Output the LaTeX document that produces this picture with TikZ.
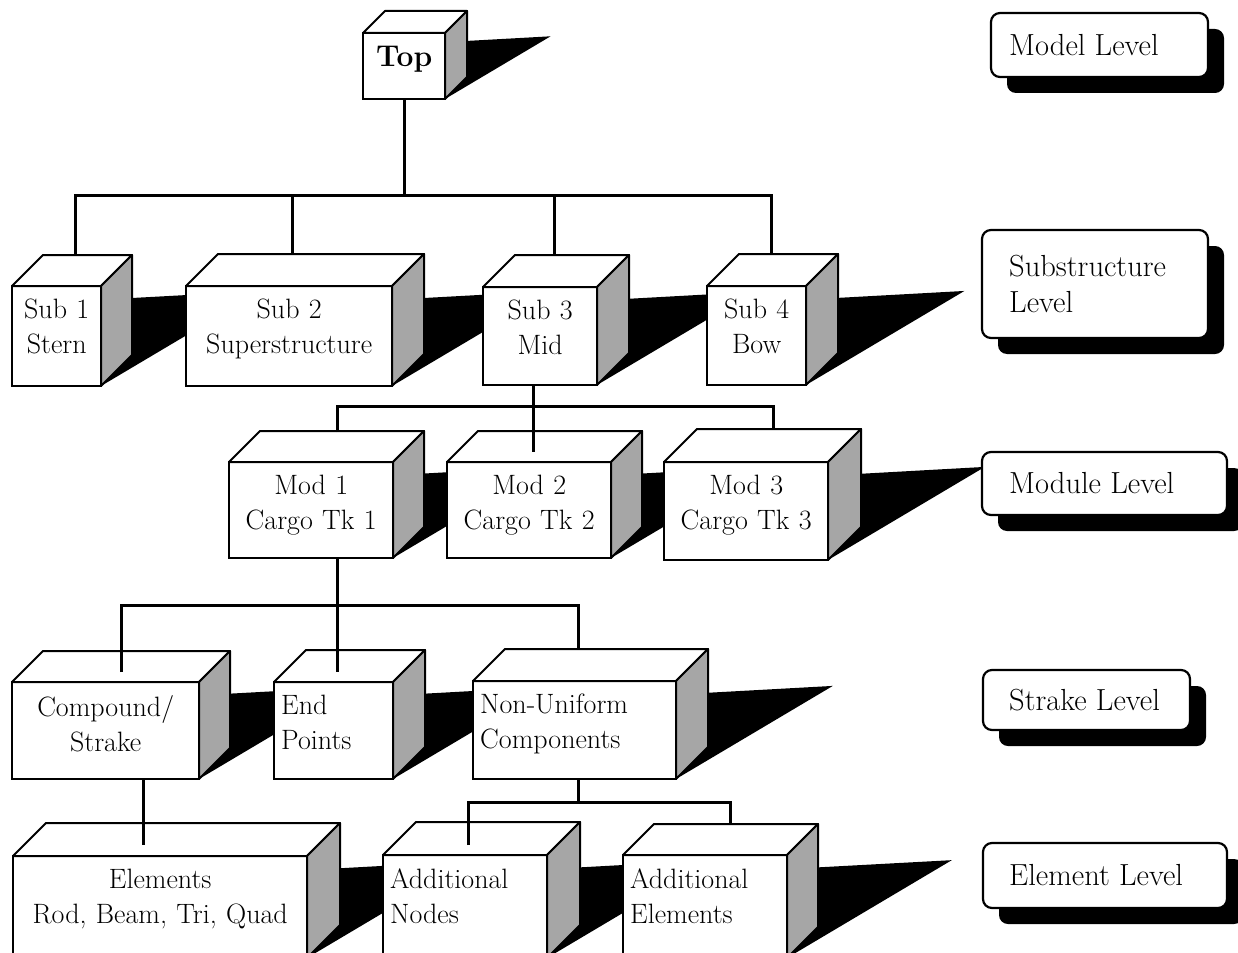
\documentclass[tikz,border=0pt]{standalone}
\usepackage{fontspec}
\usepackage{tikz}
\tikzstyle{front}=[draw,fill=white,line width=2pt,inner sep=0pt,outer sep=0pt]
\tikzstyle{face}=[draw,fill=white,line width=2pt,line join=round]
\tikzstyle{sideface}=[draw,fill=black!35,line width=2pt,line join=round]
\tikzstyle{shadowfill}=[fill=black]
\tikzstyle{boxtext}=[anchor=north west,inner xsep=7pt,inner ysep=0pt,yshift=-13pt,font=\fontsize{28}{35}\selectfont]
\tikzstyle{link}=[line width=3pt]
\tikzstyle{levelframe}=[draw,fill=white,line width=2.2pt,rounded corners=9pt]
\tikzstyle{leveltext}=[anchor=west,inner sep=0pt,align=left,font=\fontsize{30.5}{36}\selectfont]
% box: name, x1, y1, x2, y2 (front face), depth, align, text
\newcommand{\shipbox}[8]{%
  \pgfmathsetmacro{\bh}{#5-#3}
  \pgfmathsetmacro{\tw}{#4-#2-14}
  \fill[shadowfill] (#4,#5) -- ({#4+1.6*\bh},{#3+0.05*\bh}) -- ({#4+#6},{#3+0.12*\bh}) -- ({#4+#6},{#5-#6}) -- cycle;
  \node[front,minimum width={(#4-#2)*1pt},minimum height={\bh*1pt}] (#1) at ({(#2+#4)/2},{(#3+#5)/2}) {};
  \draw[face] (#1.north west) -- ++(#6,-#6) -- ++({#4-#2},0) -- (#1.north east) -- cycle;
  \draw[sideface] (#1.north east) -- ++(#6,-#6) -- ++(0,\bh) -- (#1.south east) -- cycle;
  \node[boxtext,text width=\tw pt,align=#7] (#1-txt) at (#1.north west) {#8};
}
% level box: name, x1, y1, x2, y2, text
\newcommand{\levelbox}[6]{%
  \fill[rounded corners=9pt] (#2+16,#3+16) rectangle (#4+16,#5+16);
  \draw[levelframe] (#2,#3) rectangle (#4,#5);
  \node[leveltext] (#1) at (1009,{(#3+#5)/2}) {#6};
}

\begin{document}
\begin{tikzpicture}[x=1pt,y=-1pt]
  \useasboundingbox (0,0) rectangle (1238,952);

  \shipbox{top}{363}{33}{445}{99}{22}{center}{\bfseries\fontsize{30}{36}\selectfont Top}

  \shipbox{sub1}{12}{286}{101}{386}{31}{center}{Sub 1\\Stern}
  \shipbox{sub2}{186}{286}{392}{386}{32}{center}{Sub 2\\Superstructure}
  \shipbox{sub3}{483}{287}{597}{385}{32}{center}{Sub 3\\Mid}
  \shipbox{sub4}{707}{286}{806}{385}{32}{center}{Sub 4\\Bow}

  \shipbox{mod1}{229}{462}{393}{558}{31}{center}{Mod 1\\Cargo Tk 1}
  \shipbox{mod2}{447}{462}{611}{558}{31}{center}{Mod 2\\Cargo Tk 2}
  \shipbox{mod3}{664}{462}{828}{560}{33}{center}{Mod 3\\Cargo Tk 3}

  \shipbox{comp}{12}{682}{199}{779}{31}{center}{Compound/\\Strake}
  \shipbox{endp}{274}{682}{393}{779}{32}{left}{End\\Points}
  \shipbox{nu}{473}{681}{676}{779}{32}{left}{Non-Uniform\\Components}

  \shipbox{elem}{13}{856}{307}{958}{33}{center}{Elements\\Rod, Beam, Tri, Quad}
  \shipbox{addn}{383}{855}{547}{958}{33}{left}{Additional\\Nodes}
  \shipbox{adde}{623}{855}{787}{958}{31}{left}{Additional\\Elements}

  \levelbox{lmodel}{991}{13}{1208}{77}{Model Level}
  \levelbox{lsub}{982}{230}{1208}{338}{Substructure\\Level}
  \levelbox{lmod}{982}{452}{1227}{515}{Module Level}
  \levelbox{lstrake}{983}{670}{1190}{730}{Strake Level}
  \levelbox{lelem}{983}{843}{1227}{908}{Element Level}

  % junctions and entry points
  \coordinate (j1) at (404,195);
  \coordinate (j2) at (533,406);
  \coordinate (j3) at (337,605);
  \coordinate (j4) at (578,802);
  \coordinate (sub1-in) at (75,255);
  \coordinate (sub2-in) at (292,255);
  \coordinate (sub3-in) at (554,254);
  \coordinate (sub4-in) at (771,253);
  \coordinate (mod1-in) at (337,432);
  \coordinate (mod2-in) at (533,452);
  \coordinate (mod3-in) at (773,429);
  \coordinate (comp-in) at (121,672);
  \coordinate (endp-in) at (337,672);
  \coordinate (nu-in) at (578,649);
  \coordinate (elem-in) at (143,845);
  \coordinate (addn-in) at (468,845);
  \coordinate (adde-in) at (730,823);

  \draw[link] (top.south) -- (j1);
  \draw[link] (sub1-in) |- (j1) -| (sub4-in);
  \draw[link] (j1) -| (sub2-in);
  \draw[link] (j1) -| (sub3-in);

  \draw[link] (sub3.south -| j2) -- (mod2-in);
  \draw[link] (mod1-in) |- (j2) -| (mod3-in);

  \draw[link] (mod1.south -| j3) -- (endp-in);
  \draw[link] (comp-in) |- (j3) -| (nu-in);

  \draw[link] (nu.south -| j4) -- (j4);
  \draw[link] (addn-in) |- (j4) -| (adde-in);
  \draw[link] (comp.south -| elem-in) -- (elem-in);
\end{tikzpicture}
\end{document}
